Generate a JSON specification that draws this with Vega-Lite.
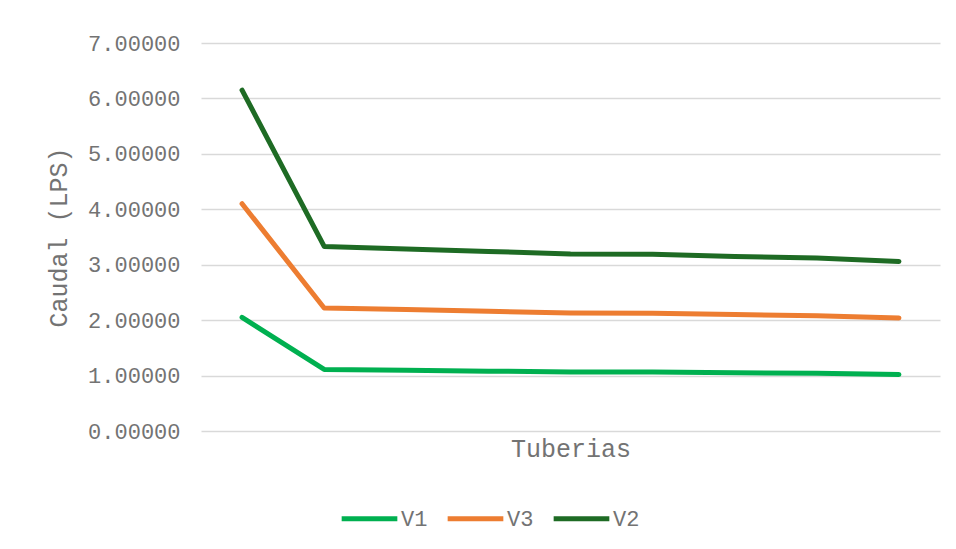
{
  "$schema": "https://vega.github.io/schema/vega-lite/v6.json",
  "width": 739,
  "height": 388,
  "autosize": {"type": "none"},
  "padding": {"left": 201, "top": 43, "right": 16, "bottom": 118},
  "background": "white",
  "config": {"view": {"stroke": null}},
  "data": {"values": [
    {"t": 1, "serie": "V1", "caudal": 2.05},
    {"t": 2, "serie": "V1", "caudal": 1.11},
    {"t": 3, "serie": "V1", "caudal": 1.095},
    {"t": 4, "serie": "V1", "caudal": 1.08},
    {"t": 5, "serie": "V1", "caudal": 1.065},
    {"t": 6, "serie": "V1", "caudal": 1.063},
    {"t": 7, "serie": "V1", "caudal": 1.05},
    {"t": 8, "serie": "V1", "caudal": 1.04},
    {"t": 9, "serie": "V1", "caudal": 1.02},
    {"t": 1, "serie": "V3", "caudal": 4.10},
    {"t": 2, "serie": "V3", "caudal": 2.22},
    {"t": 3, "serie": "V3", "caudal": 2.19},
    {"t": 4, "serie": "V3", "caudal": 2.16},
    {"t": 5, "serie": "V3", "caudal": 2.13},
    {"t": 6, "serie": "V3", "caudal": 2.126},
    {"t": 7, "serie": "V3", "caudal": 2.10},
    {"t": 8, "serie": "V3", "caudal": 2.08},
    {"t": 9, "serie": "V3", "caudal": 2.04},
    {"t": 1, "serie": "V2", "caudal": 6.15},
    {"t": 2, "serie": "V2", "caudal": 3.33},
    {"t": 3, "serie": "V2", "caudal": 3.285},
    {"t": 4, "serie": "V2", "caudal": 3.24},
    {"t": 5, "serie": "V2", "caudal": 3.195},
    {"t": 6, "serie": "V2", "caudal": 3.189},
    {"t": 7, "serie": "V2", "caudal": 3.15},
    {"t": 8, "serie": "V2", "caudal": 3.12},
    {"t": 9, "serie": "V2", "caudal": 3.06}
  ]},
  "mark": {"type": "line", "strokeWidth": 5, "strokeCap": "round", "strokeJoin": "round"},
  "encoding": {
    "x": {
      "field": "t", "type": "quantitative",
      "scale": {"domain": [0.5, 9.5], "nice": false, "zero": false},
      "axis": {"title": "Tuberias", "labels": false, "ticks": false, "grid": false, "domain": false, "titlePadding": 5, "titleFont": "Liberation Mono", "titleFontSize": 25, "titleFontWeight": "normal", "titleColor": "#737373"}
    },
    "y": {
      "field": "caudal", "type": "quantitative",
      "scale": {"domain": [0, 7], "nice": false},
      "axis": {"title": "Caudal (LPS)", "format": ".5f", "values": [0,1,2,3,4,5,6,7], "labelOverlap": false, "domain": false, "ticks": false, "grid": true, "gridColor": "#d9d9d9", "gridWidth": 1.5, "labelPadding": 21, "labelFont": "Liberation Mono", "labelFontSize": 22, "labelColor": "#737373", "titlePadding": 16, "titleFont": "Liberation Mono", "titleFontSize": 25, "titleFontWeight": "normal", "titleColor": "#737373"}
    },
    "color": {
      "field": "serie", "type": "nominal",
      "scale": {"domain": ["V1", "V3", "V2"], "range": ["#00B050", "#ED7D31", "#1E6B24"]},
      "legend": {"title": null, "orient": "none", "direction": "horizontal", "legendX": 138, "legendY": 445, "padding": 0, "symbolType": "stroke", "symbolSize": 3100, "symbolStrokeWidth": 5, "labelFont": "Liberation Mono", "labelFontSize": 22, "labelColor": "#737373", "columnPadding": 9, "labelOffset": 1}
    }
  }
}
